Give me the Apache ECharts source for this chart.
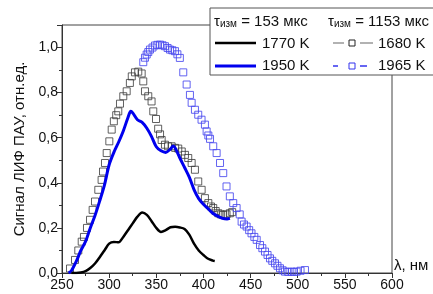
<!DOCTYPE html>
<html><head><meta charset="utf-8">
<script src="https://cdn.jsdelivr.net/npm/echarts@6/dist/echarts.min.js"></script>
<style>html,body{margin:0;padding:0;background:#fff}#c{width:433px;height:294px}</style>
</head><body><div id="c"></div>
<script>
// τизм = 153 мкс, 1770 K (black line)
var wl1770 = [260,265,270,275,280,285,290,295,300,305,310,315,320,325,330,335,340,345,350,355,360,365,370,375,380,385,390,395,400,405,410,412];
var sig1770 = [0,0,0.002,0.008,0.022,0.042,0.07,0.1,0.13,0.138,0.136,0.16,0.19,0.22,0.25,0.268,0.258,0.23,0.2,0.182,0.19,0.203,0.205,0.202,0.195,0.17,0.13,0.1,0.08,0.063,0.055,0.053];
// τизм = 153 мкс, 1950 K (blue line)
var wl1950 = [257,260,265,270,275,280,285,290,295,300,305,310,315,320,323,325,330,335,340,345,350,355,360,365,368,370,375,380,385,390,395,400,405,410,415,420,425,428];
var sig1950 = [0,0.01,0.05,0.1,0.14,0.2,0.255,0.32,0.39,0.48,0.535,0.58,0.63,0.69,0.717,0.71,0.68,0.668,0.642,0.605,0.56,0.542,0.535,0.55,0.563,0.555,0.51,0.468,0.425,0.37,0.33,0.305,0.285,0.265,0.252,0.243,0.24,0.243];
// τизм = 1153 мкс, 1680 K (gray squares)
var wl1680 = [258.5,263.8,267.3,270.9,273.3,276.5,279.7,282.5,285,288.5,292,293.5,295.6,297.4,300.2,302.7,305,307.5,309.7,311.5,315,318.6,322,324,327.4,330.9,334.5,336.2,338,341.5,345,346.8,349.7,352,354,355.7,359.2,362.5,366.3,370,373.3,377,380.4,383.9,387.5,391,394.5,398.1,401.6,405.2,408,410.4,413,415.8,418.5,421,424.5,428,430.5];
var sig1680 = [0.02,0.058,0.1,0.139,0.16,0.2,0.236,0.28,0.317,0.369,0.413,0.45,0.488,0.532,0.584,0.636,0.673,0.7,0.717,0.751,0.784,0.806,0.843,0.872,0.89,0.893,0.885,0.85,0.806,0.784,0.761,0.717,0.683,0.64,0.615,0.59,0.569,0.562,0.562,0.555,0.552,0.539,0.524,0.51,0.488,0.458,0.406,0.369,0.332,0.31,0.295,0.288,0.275,0.265,0.26,0.258,0.26,0.265,0.27];
// τизм = 1153 мкс, 1965 K (blue squares)
var wl1965 = [336.2,338,339.8,341.5,343.3,346,348.6,351.2,354,356.6,359.2,362,364.5,367,369.8,372.4,375,378.6,382.2,385.7,387.5,391,394.5,398,401.6,403.4,405.2,407,410.4,414,417.6,421,424.5,428,431.6,435.2,438.5,440.5,443,445.8,448.5,451,454,456.5,460,462.5,465.3,468,470.6,473,475.9,478.5,481.2,484,486.5,490,493.6,496,498.9,503,507.7];
var sig1965 = [0.935,0.955,0.969,0.98,0.991,1.0,1.009,1.012,1.013,1.01,1.006,0.998,0.991,0.988,0.984,0.97,0.954,0.89,0.836,0.79,0.755,0.724,0.702,0.68,0.658,0.628,0.61,0.595,0.562,0.532,0.488,0.443,0.384,0.34,0.31,0.288,0.26,0.228,0.215,0.206,0.19,0.176,0.16,0.147,0.124,0.11,0.095,0.08,0.065,0.054,0.043,0.032,0.021,0.012,0.006,0.005,0.006,0.005,0.006,0.01,0.013];

function pairs(xs, ys){ return xs.map(function(x,i){ return [x, ys[i]]; }); }

var chart = echarts.init(document.getElementById('c'), null, {renderer:'canvas'});
var FONT = 'Liberation Sans, Arial, sans-serif';
var legendX = 210, legendY = 8;
chart.setOption({
  animation:false,
  backgroundColor:'#fff',
  grid:{left:62, right:41, top:25, bottom:21, show:true, borderColor:'#444', borderWidth:1, backgroundColor:'transparent'},
  xAxis:{type:'value', min:250, max:600, interval:50,
    name:'λ, нм', nameLocation:'end', nameGap:2,
    nameTextStyle:{fontFamily:FONT, fontSize:15, color:'#111', align:'left', verticalAlign:'bottom', padding:[0,0,0,0]},
    axisLine:{show:true, onZero:false, lineStyle:{color:'#333', width:1}},
    axisTick:{show:true, inside:false, length:5, lineStyle:{color:'#333'}},
    minorTick:{show:true, splitNumber:2, length:3, lineStyle:{color:'#333'}},
    splitLine:{show:false},
    axisLabel:{fontFamily:FONT, fontSize:14, color:'#111', margin:5}
  },
  yAxis:{type:'value', min:0, max:1.1, interval:0.2,
    name:'Сигнал ЛИФ ПАУ, отн.ед.', nameLocation:'middle', nameGap:33, nameRotate:90,
    nameTextStyle:{fontFamily:FONT, fontSize:15, color:'#111'},
    axisLine:{show:true, onZero:false, lineStyle:{color:'#333', width:1}},
    axisTick:{show:true, inside:false, length:5, lineStyle:{color:'#333'}},
    minorTick:{show:true, splitNumber:2, length:3, lineStyle:{color:'#333'}},
    splitLine:{show:false},
    axisLabel:{fontFamily:FONT, fontSize:14, color:'#111', margin:4,
      formatter:function(v){ if (v > 1.05) return ''; return v.toFixed(1).replace('.', ','); }}
  },
  series:[
    {name:'1680 K', type:'scatter', data:pairs(wl1680, sig1680), symbol:'rect', symbolSize:7,
      itemStyle:{color:'rgba(255,255,255,0)', borderColor:'#3a3a3a', borderWidth:1}, z:2},
    {name:'1965 K', type:'scatter', data:pairs(wl1965, sig1965), symbol:'rect', symbolSize:7,
      itemStyle:{color:'rgba(255,255,255,0)', borderColor:'#4848ee', borderWidth:1, opacity:0.85}, z:2},
    {name:'1950 K', type:'line', data:pairs(wl1950, sig1950), smooth:0.3, showSymbol:false,
      lineStyle:{color:'#0000ee', width:3}, z:3},
    {name:'1770 K', type:'line', data:pairs(wl1770, sig1770), smooth:0.3, showSymbol:false,
      lineStyle:{color:'#000', width:2.5}, z:4}
  ],
  graphic:[
    {type:'rect', z:100, shape:{x:legendX, y:legendY, width:240, height:67}, style:{fill:'#fff', stroke:'#555', lineWidth:1}},
    {type:'text', z:101, x:214, y:22, style:{text:'{t|τ}{s|изм}{t| = 153 мкс}', verticalAlign:'middle',
      rich:{t:{fontFamily:FONT, fontSize:15, fill:'#111'}, s:{fontFamily:FONT, fontSize:10, fill:'#111', padding:[5,0,0,0]}}}},
    {type:'text', z:101, x:328, y:22, style:{text:'{t|τ}{s|изм}{t| = 1153 мкс}', verticalAlign:'middle',
      rich:{t:{fontFamily:FONT, fontSize:15, fill:'#111'}, s:{fontFamily:FONT, fontSize:10, fill:'#111', padding:[5,0,0,0]}}}},
    {type:'line', z:101, shape:{x1:215, y1:43, x2:256, y2:43}, style:{stroke:'#000', lineWidth:2.5}},
    {type:'text', z:101, x:262, y:44, style:{text:'1770 K', fontFamily:FONT, fontSize:15, fill:'#111', verticalAlign:'middle'}},
    {type:'line', z:101, shape:{x1:215, y1:66, x2:256, y2:66}, style:{stroke:'#0000ee', lineWidth:3}},
    {type:'text', z:101, x:262, y:66, style:{text:'1950 K', fontFamily:FONT, fontSize:15, fill:'#111', verticalAlign:'middle'}},
    {type:'line', z:101, shape:{x1:333, y1:43, x2:344, y2:43}, style:{stroke:'#999', lineWidth:1.5}},
    {type:'rect', z:101, shape:{x:349, y:40, width:6, height:6}, style:{fill:'#fff', stroke:'#222', lineWidth:1}},
    {type:'line', z:101, shape:{x1:360, y1:43, x2:373, y2:43}, style:{stroke:'#999', lineWidth:1.5}},
    {type:'text', z:101, x:378, y:44, style:{text:'1680 K', fontFamily:FONT, fontSize:15, fill:'#111', verticalAlign:'middle'}},
    {type:'line', z:101, shape:{x1:333, y1:66, x2:338, y2:66}, style:{stroke:'#3333ee', lineWidth:1.5}},
    {type:'rect', z:101, shape:{x:349, y:63, width:6, height:6}, style:{fill:'#fff', stroke:'#3333ee', lineWidth:1}},
    {type:'line', z:101, shape:{x1:360, y1:66, x2:367, y2:66}, style:{stroke:'#3333ee', lineWidth:1.5}},
    {type:'text', z:101, x:378, y:66, style:{text:'1965 K', fontFamily:FONT, fontSize:15, fill:'#111', verticalAlign:'middle'}}
  ]
});
</script></body></html>
